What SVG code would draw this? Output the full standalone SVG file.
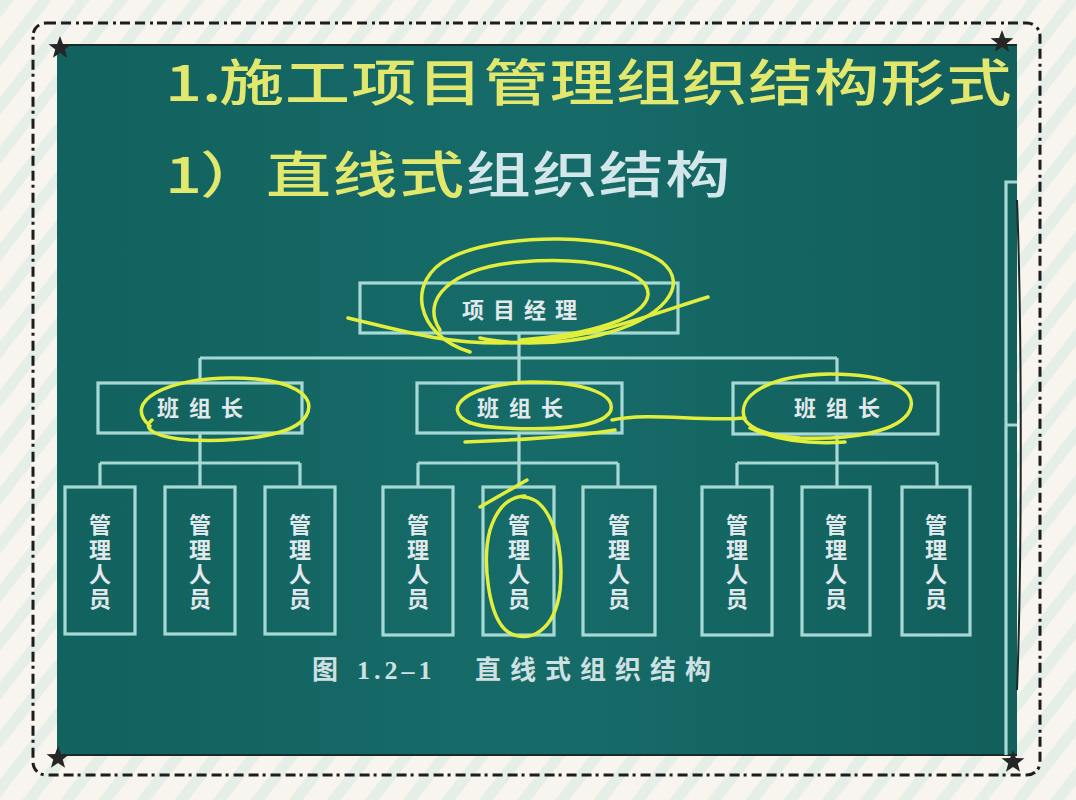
<svg xmlns="http://www.w3.org/2000/svg" width="1076" height="800" viewBox="0 0 1076 800">
<defs>
  <pattern id="stripes" width="30" height="30" patternUnits="userSpaceOnUse" patternTransform="rotate(38)">
    <rect width="30" height="30" fill="#f8f4ee"/>
    <rect width="11" height="30" fill="#e6efe7"/>
  </pattern>
  <path id="star" d="M0,-12 L2.94,-4.05 L11.41,-3.71 L4.76,1.55 L7.05,9.71 L0,5 L-7.05,9.71 L-4.76,1.55 L-11.41,-3.71 L-2.94,-4.05 Z"/>
  <linearGradient id="board" x1="0" y1="0" x2="1" y2="0">
    <stop offset="0" stop-color="#12625f"/>
    <stop offset="0.5" stop-color="#166b68"/>
    <stop offset="1" stop-color="#125f5c"/>
  </linearGradient>
  <style>
    .box{fill:none;stroke:#a6d9d4;stroke-width:3.2}
    .ln{fill:none;stroke:#a6d9d4;stroke-width:3.2}
    .lbl{font-family:"Noto Sans CJK SC","Noto Sans",sans-serif;font-weight:700;font-size:22px;fill:#e2e9ec;text-anchor:middle}
    .vt{font-family:"Noto Sans CJK SC","Noto Sans",sans-serif;font-weight:700;font-size:22px;fill:#e2e9ec;writing-mode:vertical-rl;letter-spacing:2.5px}
    .ttl{font-family:"Noto Sans CJK SC","Noto Sans",sans-serif;font-weight:500;font-size:50px}
    .yel{fill:#e2e76e}
    .wht{fill:#d3e6e9}
    .hl{fill:none;stroke:#e1ee3c;stroke-width:3.5;stroke-linecap:round;stroke-linejoin:round}
    .cap{font-family:"Noto Sans CJK SC","Liberation Serif",serif;font-weight:700;font-size:26px;fill:#cfe0e2;text-anchor:middle}
  </style>
</defs>

<!-- background -->
<rect width="1076" height="800" fill="url(#stripes)"/>
<rect x="33" y="23" width="1007" height="752" rx="13" fill="none" stroke="#1d1d1d" stroke-width="3" stroke-dasharray="10 5 10 5 3 4"/>

<!-- board -->
<rect x="57" y="45" width="960" height="710" fill="url(#board)"/>
<line x1="57" y1="45" x2="1017" y2="45" stroke="#1b2a29" stroke-width="2"/>
<line x1="57" y1="755" x2="1017" y2="755" stroke="#1b2a29" stroke-width="2"/>
<path d="M1017,200 C1022,330 1022,560 1017,690" fill="none" stroke="#1b2a29" stroke-width="2"/>
<path d="M1017,182 H1006 V755 M1006,425 H1017" class="ln"/>

<!-- stars -->
<use href="#star" x="60" y="48" fill="#262626"/>
<use href="#star" x="1002" y="42" fill="#262626"/>
<use href="#star" x="58" y="758" fill="#262626"/>
<use href="#star" x="1013" y="762" fill="#262626"/>

<!-- titles -->
<g id="title1" transform="translate(165,101) scale(1.3,1)">
  <text class="ttl yel" x="0" y="0">1.</text>
  <text class="ttl yel" x="41.5" y="0" letter-spacing="0.9">施工项目管理组织结构形式</text>
</g>
<g id="title2" transform="translate(165,193) scale(1.3,1)">
  <text class="ttl yel" x="0" y="0">1</text>
  <text class="ttl yel" x="27" y="0">）</text>
  <text class="ttl" x="77.7" y="0" letter-spacing="1.2"><tspan class="yel">直线式</tspan><tspan class="wht">组织结构</tspan></text>
</g>

<!-- connectors -->
<g id="connectors">
  <path class="ln" d="M519,333 V358 M200,358 H837 M200,358 V383 M519,358 V383 M837,358 V383"/>
  <path class="ln" d="M200,433 V463 M100,463 H300 M100,463 V487 M200,463 V487 M300,463 V487"/>
  <path class="ln" d="M519,433 V463 M418,463 H618 M418,463 V487 M519,463 V487 M618,463 V487"/>
  <path class="ln" d="M837,435 V463 M737,463 H937 M737,463 V487 M837,463 V487 M937,463 V487"/>
</g>

<!-- nodes -->
<g id="manager">
  <rect class="box" x="360" y="283" width="318" height="50"/>
  <text class="lbl" x="473 504 535 566" y="318">项目经理</text>
</g>
<g id="leader1">
  <rect class="box" x="98" y="383" width="204" height="50"/>
  <text class="lbl" x="168 200 232" y="416">班组长</text>
</g>
<g id="leader2">
  <rect class="box" x="417" y="383" width="205" height="50"/>
  <text class="lbl" x="488 520 552" y="416">班组长</text>
</g>
<g id="leader3">
  <rect class="box" x="733" y="383" width="205" height="51"/>
  <text class="lbl" x="805 837 869" y="416">班组长</text>
</g>

<g id="staff1"><rect class="box" x="65" y="487" width="70" height="147"/><text class="vt" x="100" y="514">管理人员</text></g>
<g id="staff2"><rect class="box" x="165" y="487" width="70" height="147"/><text class="vt" x="200" y="514">管理人员</text></g>
<g id="staff3"><rect class="box" x="265" y="487" width="70" height="147"/><text class="vt" x="300" y="514">管理人员</text></g>
<g id="staff4"><rect class="box" x="383" y="487" width="70" height="148"/><text class="vt" x="418" y="514">管理人员</text></g>
<g id="staff5"><rect class="box" x="483" y="487" width="71" height="148"/><text class="vt" x="519" y="514">管理人员</text></g>
<g id="staff6"><rect class="box" x="583" y="487" width="72" height="148"/><text class="vt" x="619" y="514">管理人员</text></g>
<g id="staff7"><rect class="box" x="702" y="487" width="70" height="148"/><text class="vt" x="737" y="514">管理人员</text></g>
<g id="staff8"><rect class="box" x="802" y="487" width="68" height="148"/><text class="vt" x="836" y="514">管理人员</text></g>
<g id="staff9"><rect class="box" x="902" y="487" width="68" height="148"/><text class="vt" x="936" y="514">管理人员</text></g>

<!-- caption -->
<g id="caption">
  <text class="cap" x="325" y="679">图</text>
  <text x="357" y="679" font-family="'Liberation Serif',serif" font-weight="700" font-size="26" fill="#cfe0e2" letter-spacing="4">1.2–1</text>
  <text class="cap" x="488 523 558 593 628 663 698" y="679">直线式组织结构</text>
</g>

<!-- yellow hand annotations -->
<g id="annotations">
  <path class="hl" d="M470,352 C415,335 405,280 450,258 C500,232 620,232 662,262 C690,285 665,318 600,335 C560,345 510,345 480,338"/>
  <path class="hl" d="M440,330 C420,300 450,268 520,262 C590,256 650,270 648,295 C645,318 590,335 520,340"/>
  <path class="hl" d="M348,318 C400,330 440,343 500,343 C580,343 640,318 708,297"/>
  <path class="hl" d="M150,426 C122,402 165,378 232,378 C292,378 318,396 306,416 C294,436 240,442 190,440 C160,438 140,430 152,420"/>
  <path class="hl" d="M470,423 C438,408 470,383 532,382 C588,382 618,396 610,412 C600,428 550,430 505,428 C485,427 470,425 462,418"/>
  <path class="hl" d="M465,442 C520,440 580,436 615,430"/>
  <path class="hl" d="M612,420 C650,412 700,422 745,418"/>
  <path class="hl" d="M745,420 C735,395 770,375 830,374 C890,374 918,390 910,410 C900,432 850,440 800,438 C770,436 752,430 745,420"/>
  <path class="hl" d="M750,428 C780,442 815,444 845,442"/>
  <path class="hl" d="M522,497 C548,496 565,540 560,590 C555,630 530,645 508,632 C488,618 482,560 490,530 C498,505 510,497 525,496"/>
  <path class="hl" d="M480,507 L527,480"/>
</g>
</svg>
